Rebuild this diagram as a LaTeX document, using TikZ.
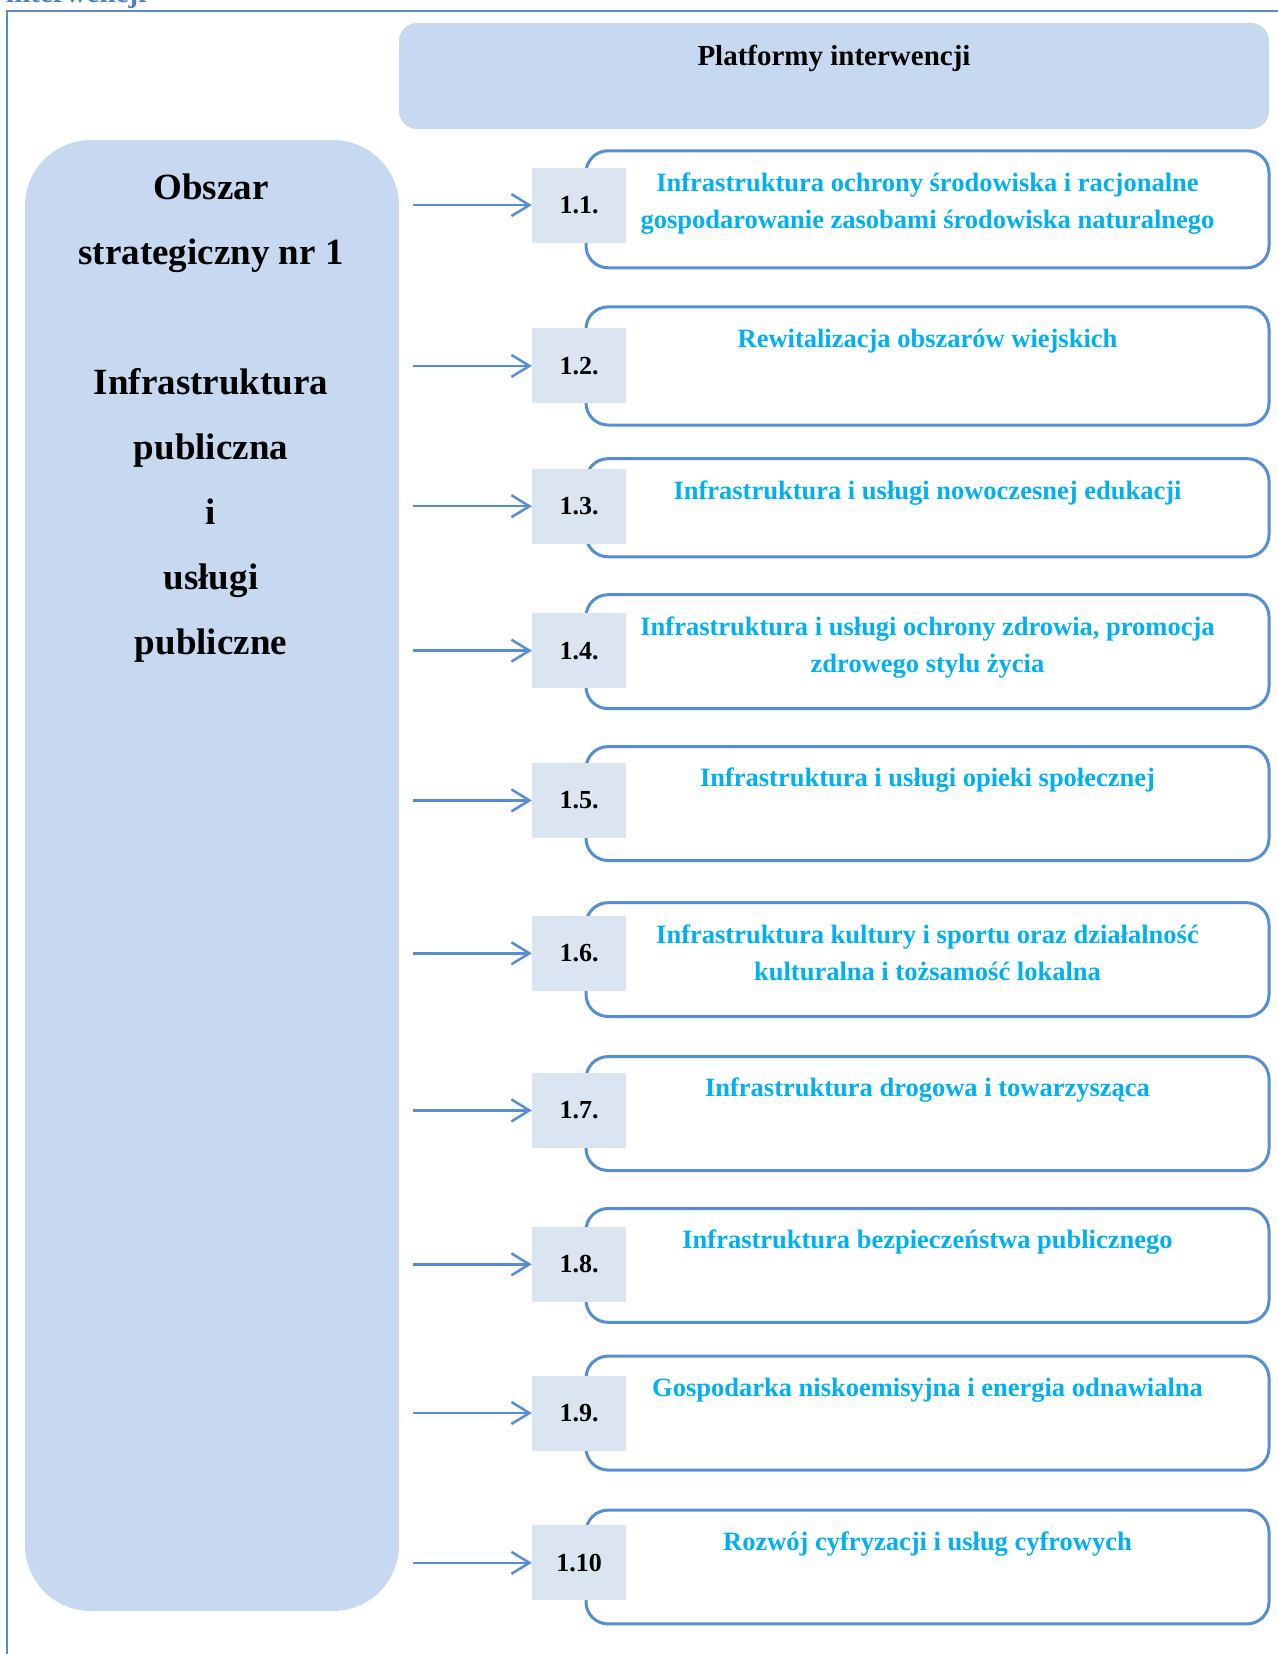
\documentclass[tikz,border=0pt]{standalone}
\usepackage{fontspec}
\setmainfont{Liberation Serif}
\usetikzlibrary{arrows.meta}
\definecolor{frameblue}{HTML}{5A8AC6}
\definecolor{boxfill}{HTML}{C6D9F0}
\definecolor{numfill}{HTML}{DBE5F1}
\definecolor{edgeblue}{HTML}{558ED5}
\definecolor{txtblue}{HTML}{00B0F0}
\definecolor{topblue}{HTML}{4F81BD}
\tikzset{
  bigbox/.style={fill=boxfill, draw=none},
  pbox/.style={draw=edgeblue, line width=3pt, fill=white, rounded corners=22pt, minimum width=683pt, inner sep=0pt},
  numbox/.style={fill=numfill, draw=none, minimum width=94pt, minimum height=75pt, inner sep=0pt, font=\fontsize{26}{30}\selectfont\bfseries},
  ptxt/.style={anchor=north, align=center, inner sep=0pt, text=txtblue, font=\fontsize{26.5}{37}\selectfont\bfseries},
  arr/.style={draw=edgeblue, line width=2.5pt, -{Straight Barb[length=18pt,width=22pt,line width=2.5pt]}, shorten <=14pt}
}
\begin{document}
\begin{tikzpicture}[x=1pt,y=-1pt]
\useasboundingbox (0,0) rectangle (1277,1654);
% cut-off heading above the frame
\node[anchor=base west, inner sep=0pt, text=topblue, font=\fontsize{29}{32}\selectfont\bfseries] (cut) at (6,3) {interwencji};
% frame
\draw[frameblue, line width=2.5pt] (7,1660) -- (7,11) -- (1285,11);
% header
\node[bigbox, rounded corners=18pt, minimum width=870pt, minimum height=106pt] (H) at (834,76) {};
\node[anchor=base, inner sep=0pt, font=\fontsize{29}{32}\selectfont\bfseries] (Ht) at (834,66) {Platformy interwencji};
% left box
\node[bigbox, rounded corners=66pt, minimum width=374pt, minimum height=1471pt] (L) at (212,875.5) {};
\node[anchor=north, align=center, inner sep=0pt, font=\fontsize{37}{65}\selectfont\bfseries] (Lt) at (211,174)
  {Obszar\\strategiczny nr 1\\[65pt]Infrastruktura\\publiczna\\i\\usługi\\publiczne};
% rows
\foreach \i/\num/\yc/\ytop/\ybot/\txt in {
  1/1.1./205.1/150.8/267.8/{Infrastruktura ochrony środowiska i racjonalne\\gospodarowanie zasobami środowiska naturalnego},
  2/1.2./365.9/306.9/425.0/{Rewitalizacja obszarów wiejskich},
  3/1.3./506.2/458.7/556.8/{Infrastruktura i usługi nowoczesnej edukacji},
  4/1.4./650.6/594.7/708.6/{Infrastruktura i usługi ochrony zdrowia, promocja\\zdrowego stylu życia},
  5/1.5./800.4/746.6/860.5/{Infrastruktura i usługi opieki społecznej},
  6/1.6./953.3/902.7/1016.5/{Infrastruktura kultury i sportu oraz działalność\\kulturalna i tożsamość lokalna},
  7/1.7./1110.4/1056.6/1170.5/{Infrastruktura drogowa i towarzysząca},
  8/1.8./1264.3/1208.5/1322.3/{Infrastruktura bezpieczeństwa publicznego},
  9/1.9./1413.0/1356.1/1470.0/{Gospodarka niskoemisyjna i energia odnawialna},
  10/1.10/1562.8/1510.1/1623.9/{Rozwój cyfryzacji i usług cyfrowych}} {
  \pgfmathsetmacro{\bh}{\ybot-\ytop}
  \pgfmathsetmacro{\bc}{(\ybot+\ytop)/2}
  \node[pbox, minimum height=\bh pt] (B\i) at (927.5,\bc) {};
  \node[ptxt] (T\i) at ([yshift=-23pt]B\i.north) {\txt};
  \node[numbox] (N\i) at (579,\yc) {\num};
  \draw[arr] (L.east |- N\i.west) -- (N\i.west);
}
\end{tikzpicture}
\end{document}
